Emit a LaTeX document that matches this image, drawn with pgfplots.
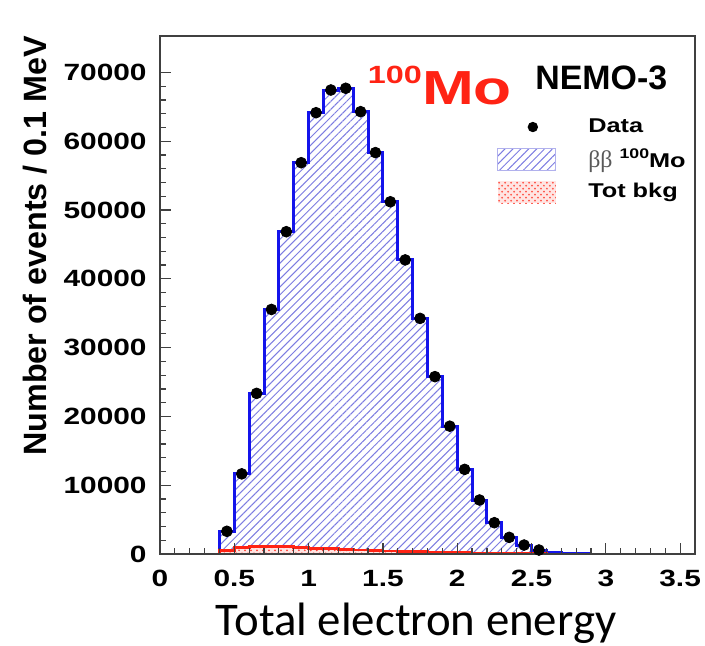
\documentclass[border=0pt]{standalone}
\usepackage{pgfplots}
\pgfplotsset{compat=1.18}
\usepackage{pgfplotstable}
\usepackage{fontspec}
\setmainfont{Liberation Sans}
\newfontfamily\tickfont{Liberation Sans}[FakeStretch=1.27]
\newfontfamily\titlefont{Liberation Sans}[FakeStretch=1.3]
\newfontfamily\calibri{Carlito}
\newfontfamily\serifgr{Liberation Serif}
\usetikzlibrary{patterns,patterns.meta}

\definecolor{histblue}{RGB}{20,20,235}
\definecolor{hatchblue}{RGB}{125,125,225}
\definecolor{rootred}{RGB}{255,35,20}

% signal histogram: bin left edge, content (last row = right edge)
\pgfplotstableread{
x y
0.4 3300
0.5 11700
0.6 23350
0.7 35550
0.8 46850
0.9 56880
1.0 64150
1.1 67450
1.2 67700
1.3 64300
1.4 58400
1.5 51200
1.6 42750
1.7 34250
1.8 25800
1.9 18550
2.0 12300
2.1 7850
2.2 4550
2.3 2400
2.4 1300
2.5 580
2.6 200
2.7 60
2.8 20
2.9 20
}\sig

% data points at bin centres
\pgfplotstableread{
x y
0.45 3300
0.55 11650
0.65 23350
0.75 35550
0.85 46850
0.95 56880
1.05 64150
1.15 67450
1.25 67700
1.35 64300
1.45 58350
1.55 51200
1.65 42750
1.75 34250
1.85 25780
1.95 18580
2.05 12300
2.15 7850
2.25 4550
2.35 2420
2.45 1300
2.55 580
}\dat

% total background
\pgfplotstableread{
x y
0.4 500
0.5 900
0.6 1050
0.7 1100
0.8 1050
0.9 950
1.0 850
1.1 750
1.2 650
1.3 580
1.4 500
1.5 430
1.6 370
1.7 320
1.8 270
1.9 230
2.0 190
2.1 150
2.2 120
2.3 90
2.4 60
2.5 30
2.6 0
}\bkg

\begin{document}
\begin{tikzpicture}
\begin{axis}[
  name=ax,
  scale only axis,
  width=267.5bp, height=259bp,
  xmin=0, xmax=3.6, ymin=0, ymax=75300,
  scaled y ticks=false, scaled x ticks=false,
  axis on top,
  axis line style={black!75, line width=0.9bp},
  tick align=inside, xtick pos=bottom, ytick pos=left,
  xtick={0,0.5,1,1.5,2,2.5,3,3.5},
  xticklabels={0,0.5,1,1.5,2,2.5,3,3.5},
  ytick={0,10000,20000,30000,40000,50000,60000,70000},
  yticklabels={0,10000,20000,30000,40000,50000,60000,70000},
  minor x tick num=4, minor y tick num=4,
  major tick length=5.5bp, minor tick length=2.8bp,
  every tick/.style={black!75, line width=0.6bp},
  /pgf/number format/assume math mode=true,
  xticklabel style={font=\tickfont\bfseries\fontsize{11.8}{12}\selectfont, anchor=north, inner sep=0pt, yshift=-8bp},
  yticklabel style={font=\tickfont\bfseries\fontsize{11.8}{12}\selectfont, anchor=east, inner sep=0pt, xshift=-6.5bp},
  xlabel={Total electron energy},
  every axis x label/.style={at={(axis description cs:0.4785,0)}, anchor=base, yshift=-40.5bp, font=\calibri\fontsize{23.5}{26}\selectfont},
  ylabel={Number of events / 0.1 MeV},
  every axis y label/.style={at={(axis description cs:-0.234,0.595)}, rotate=90, anchor=center, font=\bfseries\fontsize{16.2}{18}\selectfont},
  legend style={at={(axis description cs:0.63,0.845)}, anchor=north west, draw=none, fill=none, inner sep=0pt,
    row sep=4.5bp, font=\tickfont\bfseries\fontsize{10}{12}\selectfont,
    /tikz/every odd column/.append style={column sep=15bp},
    nodes={inner sep=1bp, anchor=west}},
  legend cell align=left,
]
\addlegendimage{draw=none, legend image code/.code={\path[draw=none] (0bp,0bp) -- (29bp,0bp); \fill[black, draw=none] (17.5bp,0bp) circle (2.6bp);}}
\addlegendentry{Data}
\addlegendimage{draw=none, legend image code/.code={\path[draw=hatchblue!60, line width=0.4bp, pattern={Lines[angle=45,distance=2.8bp,line width=0.5bp]}, pattern color=hatchblue] (0bp,-5.5bp) rectangle (29bp,5.5bp);}}
\addlegendentry{{\serifgr\mdseries\color{black!65}\fontsize{12}{12}\selectfont ββ} \raisebox{4.5bp}{\fontsize{7}{7}\selectfont 100}Mo}
\addlegendimage{draw=none, legend image code/.code={\path[draw=none, fill=rootred!12] (0bp,-5.5bp) rectangle (29bp,5.5bp); \path[draw=none, pattern=crosshatch dots, pattern color=rootred!80] (0bp,-5.5bp) rectangle (29bp,5.5bp);}}
\addlegendentry{Tot bkg}

\addplot[const plot, draw=none, fill=white, forget plot] table {\sig} \closedcycle;
\addplot[const plot, draw=histblue, line width=1.5bp, pattern={Lines[angle=45,distance=2.8bp,line width=0.5bp]}, pattern color=hatchblue, forget plot] table {\sig} \closedcycle;
\addplot[const plot, draw=none, fill=rootred!12, forget plot] table {\bkg} \closedcycle;
\addplot[const plot, draw=rootred, line width=1.4bp, pattern=crosshatch dots, pattern color=rootred!85, forget plot] table {\bkg} \closedcycle;
\addplot[only marks, mark=*, mark size=2.7bp, black, forget plot] table {\dat};

\node[anchor=base west, text=rootred, font=\titlefont\bfseries\fontsize{24}{26}\selectfont, inner sep=0pt]
  at (axis description cs:0.388,0.8668) {\raisebox{10.5bp}{\fontsize{12.5}{12}\selectfont 100}Mo};
\node[anchor=base west, font=\bfseries\fontsize{17}{18}\selectfont, inner sep=0pt]
  at (axis description cs:0.701,0.8958) {NEMO-3};
\end{axis}
\pgfresetboundingbox
\useasboundingbox ([shift={(-80bp,-46bp)}]ax.south west) rectangle ([shift={(272.5bp,277bp)}]ax.south west);
\end{tikzpicture}
\end{document}
